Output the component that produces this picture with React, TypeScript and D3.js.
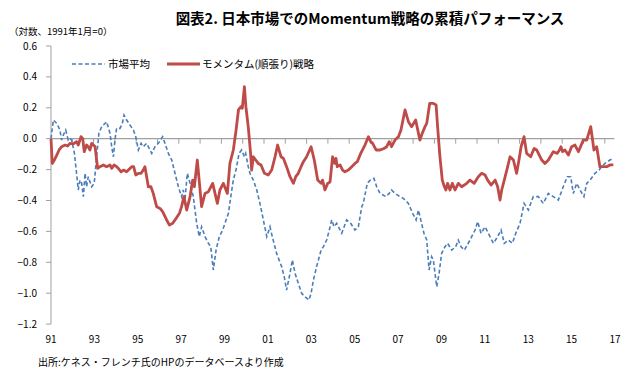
import React from "react";
import * as d3 from "d3";

const marketDates = [
  1991.00, 1991.11, 1991.27, 1991.42, 1991.50, 1991.58, 1991.69, 1991.81, 1991.89, 1991.97,
  1992.10, 1992.20, 1992.28, 1992.36, 1992.44, 1992.52, 1992.60, 1992.67, 1992.75, 1992.91,
  1993.03, 1993.14, 1993.25, 1993.38, 1993.54, 1993.61, 1993.77, 1993.85, 1993.93, 1994.00,
  1994.08, 1994.24, 1994.35, 1994.43, 1994.55, 1994.71, 1994.87, 1994.98, 1995.10, 1995.23,
  1995.33, 1995.49, 1995.73, 1995.88, 1996.04, 1996.24, 1996.35, 1996.51, 1996.67, 1996.82,
  1996.98, 1997.13, 1997.21, 1997.29, 1997.40, 1997.53, 1997.68, 1997.84, 1997.96, 1998.07,
  1998.23, 1998.39, 1998.50, 1998.62, 1998.75, 1998.90, 1999.06, 1999.22, 1999.33, 1999.44,
  1999.56, 1999.69, 1999.83, 1999.95, 2000.08, 2000.14, 2000.26, 2000.34, 2000.50, 2000.66,
  2000.81, 2000.97, 2001.13, 2001.28, 2001.39, 2001.59, 2001.83, 2001.95, 2002.06, 2002.22,
  2002.33, 2002.46, 2002.61, 2002.77, 2002.92, 2003.11, 2003.21, 2003.32, 2003.47, 2003.68,
  2003.79, 2003.94, 2004.05, 2004.18, 2004.29, 2004.41, 2004.65, 2004.88, 2005.07, 2005.27,
  2005.43, 2005.59, 2005.66, 2005.85, 2005.98, 2006.16, 2006.29, 2006.45, 2006.73, 2006.88,
  2006.99, 2007.15, 2007.38, 2007.54, 2007.78, 2007.98, 2008.14, 2008.25, 2008.36, 2008.51,
  2008.64, 2008.75, 2008.87, 2008.95, 2009.11, 2009.22, 2009.34, 2009.50, 2009.62, 2009.81,
  2010.00, 2010.12, 2010.25, 2010.41, 2010.67, 2010.91, 2011.03, 2011.19, 2011.38, 2011.61,
  2011.77, 2011.97, 2012.13, 2012.28, 2012.47, 2012.66, 2012.82, 2013.02, 2013.21, 2013.41,
  2013.64, 2013.88, 2014.11, 2014.35, 2014.58, 2014.82, 2015.05, 2015.24, 2015.40, 2015.52,
  2015.68, 2015.84, 2016.02, 2016.15, 2016.31, 2016.54, 2016.73, 2016.85, 2017.01, 2017.24,
  2017.40,
];
const marketValues = [
  0.000, 0.121, 0.099, 0.056, -0.009, 0.024, 0.056, -0.009, 0.002, -0.009,
  -0.095, -0.224, -0.332, -0.268, -0.289, -0.375, -0.224, -0.311, -0.246, -0.311,
  -0.289, -0.117, 0.035, 0.078, 0.099, 0.110, 0.035, -0.052, -0.117, -0.009,
  0.067, 0.067, 0.099, 0.153, 0.121, 0.088, 0.056, 0.013, -0.073, -0.030,
  -0.052, -0.030, -0.095, -0.052, -0.030, 0.013, -0.030, -0.095, -0.138, -0.224,
  -0.311, -0.375, -0.332, -0.397, -0.224, -0.289, -0.375, -0.548, -0.634, -0.570,
  -0.634, -0.677, -0.699, -0.850, -0.721, -0.634, -0.591, -0.526, -0.483, -0.375,
  -0.268, -0.200, -0.095, -0.073, -0.117, -0.095, -0.181, -0.224, -0.268, -0.332,
  -0.419, -0.526, -0.634, -0.570, -0.634, -0.742, -0.828, -0.893, -0.980, -0.872,
  -0.785, -0.872, -0.936, -1.001, -1.023, -1.044, -1.001, -0.915, -0.828, -0.721,
  -0.699, -0.656, -0.600, -0.526, -0.570, -0.548, -0.612, -0.526, -0.548, -0.591,
  -0.570, -0.440, -0.419, -0.289, -0.268, -0.257, -0.311, -0.354, -0.375, -0.354,
  -0.332, -0.354, -0.375, -0.386, -0.419, -0.483, -0.526, -0.462, -0.526, -0.612,
  -0.656, -0.850, -0.764, -0.785, -0.958, -0.872, -0.742, -0.699, -0.677, -0.721,
  -0.699, -0.656, -0.699, -0.721, -0.656, -0.591, -0.537, -0.612, -0.570, -0.634,
  -0.677, -0.634, -0.591, -0.677, -0.656, -0.677, -0.612, -0.548, -0.419, -0.462,
  -0.375, -0.375, -0.419, -0.354, -0.375, -0.397, -0.311, -0.246, -0.246, -0.354,
  -0.289, -0.332, -0.375, -0.289, -0.268, -0.224, -0.203, -0.181, -0.160, -0.138,
  -0.127,
];

const momentumDates = [
  1991.00, 1991.06, 1991.16, 1991.27, 1991.38, 1991.50, 1991.66, 1991.78, 1991.89, 1992.05,
  1992.20, 1992.28, 1992.41, 1992.49, 1992.56, 1992.67, 1992.75, 1992.83, 1992.91, 1992.99,
  1993.07, 1993.19, 1993.30, 1993.46, 1993.61, 1993.77, 1993.85, 1993.96, 1994.08, 1994.16,
  1994.29, 1994.40, 1994.55, 1994.79, 1994.88, 1994.98, 1995.10, 1995.23, 1995.33, 1995.41,
  1995.57, 1995.69, 1995.80, 1995.96, 1996.12, 1996.24, 1996.43, 1996.56, 1996.71, 1996.87,
  1997.03, 1997.13, 1997.24, 1997.37, 1997.53, 1997.65, 1997.73, 1997.87, 1998.07, 1998.23,
  1998.39, 1998.59, 1998.81, 1998.93, 1999.09, 1999.28, 1999.40, 1999.56, 1999.69, 1999.80,
  1999.92, 1999.98, 2000.08, 2000.15, 2000.26, 2000.37, 2000.42, 2000.50, 2000.61, 2000.73,
  2000.86, 2001.02, 2001.20, 2001.36, 2001.52, 2001.64, 2001.80, 2001.91, 2002.06, 2002.22,
  2002.38, 2002.49, 2002.61, 2002.74, 2002.85, 2003.00, 2003.21, 2003.36, 2003.52, 2003.68,
  2003.75, 2003.86, 2003.99, 2004.10, 2004.22, 2004.32, 2004.38, 2004.44, 2004.57, 2004.69,
  2004.80, 2004.96, 2005.12, 2005.27, 2005.38, 2005.54, 2005.74, 2005.90, 2006.01, 2006.10,
  2006.26, 2006.45, 2006.63, 2006.76, 2006.88, 2006.99, 2007.15, 2007.31, 2007.43, 2007.62,
  2007.78, 2007.93, 2008.12, 2008.32, 2008.43, 2008.56, 2008.64, 2008.78, 2008.95, 2009.08,
  2009.15, 2009.26, 2009.37, 2009.47, 2009.54, 2009.62, 2009.73, 2009.84, 2009.97, 2010.12,
  2010.28, 2010.52, 2010.67, 2010.87, 2011.06, 2011.22, 2011.38, 2011.50, 2011.66, 2011.85,
  2011.97, 2012.08, 2012.16, 2012.28, 2012.44, 2012.55, 2012.71, 2012.86, 2012.97, 2013.07,
  2013.21, 2013.33, 2013.52, 2013.68, 2013.80, 2014.04, 2014.19, 2014.35, 2014.58, 2014.77,
  2014.87, 2014.94, 2015.02, 2015.13, 2015.29, 2015.44, 2015.60, 2015.76, 2015.99, 2016.15,
  2016.34, 2016.49, 2016.62, 2016.77, 2016.93, 2017.09, 2017.24, 2017.40,
];
const momentumValues = [
  0.000, -0.160, -0.138, -0.106, -0.073, -0.052, -0.041, -0.047, -0.030, -0.034,
  -0.019, -0.041, 0.013, 0.002, -0.084, -0.041, -0.052, -0.073, -0.030, -0.041,
  -0.052, -0.192, -0.181, -0.170, -0.181, -0.170, -0.192, -0.170, -0.181, -0.192,
  -0.214, -0.203, -0.214, -0.181, -0.181, -0.235, -0.224, -0.224, -0.203, -0.181,
  -0.311, -0.311, -0.354, -0.440, -0.451, -0.472, -0.526, -0.559, -0.548, -0.516,
  -0.483, -0.440, -0.375, -0.462, -0.375, -0.268, -0.311, -0.138, -0.440, -0.354,
  -0.343, -0.289, -0.419, -0.332, -0.289, -0.354, -0.160, -0.073, 0.056, 0.186,
  0.207, 0.197, 0.337, 0.207, 0.078, -0.095, -0.203, -0.117, -0.138, -0.160,
  -0.170, -0.224, -0.235, -0.203, -0.117, -0.041, -0.117, -0.127, -0.181, -0.246,
  -0.289, -0.246, -0.224, -0.181, -0.149, -0.117, -0.052, -0.138, -0.268, -0.289,
  -0.268, -0.332, -0.289, -0.280, -0.117, -0.160, -0.127, -0.181, -0.170, -0.203,
  -0.214, -0.203, -0.181, -0.160, -0.149, -0.095, -0.041, 0.013, -0.019, -0.030,
  -0.073, -0.073, -0.063, -0.052, -0.019, -0.052, -0.009, 0.013, 0.056, 0.186,
  0.110, 0.078, 0.121, -0.009, 0.035, 0.078, 0.099, 0.229, 0.229, 0.218,
  0.078, -0.117, -0.268, -0.311, -0.332, -0.289, -0.332, -0.289, -0.332, -0.289,
  -0.311, -0.289, -0.268, -0.289, -0.246, -0.224, -0.235, -0.268, -0.300, -0.268,
  -0.311, -0.397, -0.332, -0.268, -0.181, -0.117, -0.138, -0.224, -0.138, -0.052,
  0.013, -0.095, -0.117, -0.063, -0.073, -0.138, -0.160, -0.138, -0.084, -0.095,
  -0.073, -0.052, -0.084, -0.073, -0.106, -0.052, -0.041, -0.084, -0.009, -0.009,
  0.078, -0.073, -0.052, -0.181, -0.181, -0.181, -0.170, -0.170,
];

const yTicks = [0.6, 0.4, 0.2, 0.0, -0.2, -0.4, -0.6, -0.8, -1.0, -1.2];
const tickYears = d3.range(1991, 2018);
const labelYears = [1991, 1993, 1995, 1997, 1999, 2001, 2003, 2005, 2007, 2009, 2011, 2013, 2015, 2017];

const title = "図表2. 日本市場でのMomentum戦略の累積パフォーマンス";
const unitLabel = "（対数、1991年1月=0）";
const seriesNames = ["市場平均", "モメンタム(順張り)戦略"];
const source = "出所:ケネス・フレンチ氏のHPのデータベースより作成";

const W = 640;
const H = 377;
const FONT = "'Noto Sans CJK JP', 'Noto Sans', sans-serif";
const BLUE = "#4A7EBB";
const RED = "#BE4B48";
const AXIS = "#A0A0A0";

export default function App() {
  const x = d3.scaleLinear().domain([1991, 2018]).range([51, 51 + 27 * 21.3]);
  const y = d3.scaleLinear().domain([-1.2, 0.6]).range([324.1, 46]);
  // the category labels of the original sit on a slightly wider pitch than the ticks
  const xLabel = d3.scaleLinear().domain([1991, 2017]).range([51, 615]);

  const line = d3
    .line<[number, number]>()
    .x((d) => x(d[0]))
    .y((d) => y(d[1]));

  const market: [number, number][] = marketDates.map((t, i) => [t, marketValues[i]]);
  const momentum: [number, number][] = momentumDates.map((t, i) => [t, momentumValues[i]]);
  const fmtY = d3.format(".1f");
  const zeroRight = x(2017.45);

  return (
    <svg
      width={W}
      height={H}
      style={{ position: "absolute", left: 0, top: 0, background: "#fff" }}
      fontFamily={FONT}
    >
      <rect width={W} height={H} fill="#fff" />
      <text x={370} y={24} textAnchor="middle" fontSize={14.5} fontWeight="bold" fill="#000">
        {title}
      </text>
      <text x={9} y={35} fontSize={9.5} fill="#000">
        {unitLabel}
      </text>

      {/* y axis */}
      <line x1={x(1991)} x2={x(1991)} y1={y(0.6)} y2={y(-1.2)} stroke={AXIS} strokeWidth={1} />
      {yTicks.map((v) => (
        <g key={v}>
          <line x1={x(1991) - 5} x2={x(1991)} y1={y(v)} y2={y(v)} stroke={AXIS} strokeWidth={1} />
          <text x={37} y={y(v) + 3.5} textAnchor="end" fontSize={10} fill="#000">
            {fmtY(v)}
          </text>
        </g>
      ))}

      {/* zero line with year ticks */}
      <line x1={x(1991)} x2={zeroRight} y1={y(0)} y2={y(0)} stroke={AXIS} strokeWidth={1.2} />
      {tickYears.map((t) => (
        <line key={t} x1={x(t)} x2={x(t)} y1={y(0)} y2={y(0) + 5} stroke={AXIS} strokeWidth={1} />
      ))}
      {labelYears.map((t) => (
        <text key={t} x={xLabel(t)} y={343} textAnchor="middle" fontSize={10} fill="#000">
          {String(t).slice(2)}
        </text>
      ))}

      <path d={line(market) || ""} fill="none" stroke={BLUE} strokeWidth={1.6} strokeDasharray="4 2.5" />
      <path d={line(momentum) || ""} fill="none" stroke={RED} strokeWidth={2.8} strokeLinejoin="round" />

      {/* legend */}
      <line x1={72} x2={105} y1={64} y2={64} stroke={BLUE} strokeWidth={1.6} strokeDasharray="4 2.5" />
      <text x={108} y={68} fontSize={10.5} fill="#000">
        {seriesNames[0]}
      </text>
      <line x1={167} x2={200} y1={64} y2={64} stroke={RED} strokeWidth={2.8} />
      <text x={202} y={68} fontSize={10.5} fill="#000">
        {seriesNames[1]}
      </text>

      <text x={38} y={366} fontSize={10} fill="#000">
        {source}
      </text>
    </svg>
  );
}
